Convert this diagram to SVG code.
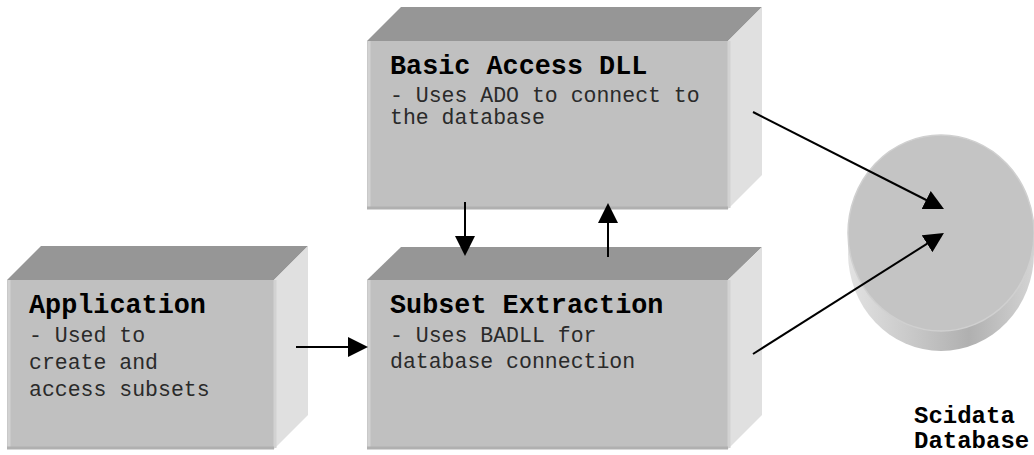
<svg xmlns="http://www.w3.org/2000/svg" width="1034" height="455" viewBox="0 0 1034 455">
<style>
.front{fill:#c0c0c0}
.top{fill:#969696}
.side{fill:#e0e0e0}
.hl{stroke:#d2d2d2;stroke-width:3;fill:none}
.sh{stroke:#b0b0b0;stroke-width:3;fill:none}
.title{font-family:"Liberation Mono","Courier New",monospace;font-weight:bold;font-size:26.8px;fill:#000}
.body{font-family:"Liberation Mono","Courier New",monospace;font-size:21.5px;fill:#2a2a2a}
.dbl{font-family:"Liberation Mono","Courier New",monospace;font-weight:bold;font-size:24px;fill:#000}
.conn{stroke:#000;stroke-width:2;fill:none;marker-end:url(#ah)}
</style>
<defs>
<marker id="ah" viewBox="0 0 20 20" refX="10" refY="10" markerWidth="20" markerHeight="20" markerUnits="userSpaceOnUse" orient="auto">
<path d="M0,0 L20,10 L0,20 z" fill="#000"/>
</marker>
<linearGradient id="cyl" x1="0" y1="0" x2="1" y2="0">
<stop offset="0" stop-color="#e2e2e2"/>
<stop offset="0.35" stop-color="#c8c8c8"/>
<stop offset="0.65" stop-color="#b0b0b0"/>
<stop offset="1" stop-color="#d4d4d4"/>
</linearGradient>
</defs>
<rect width="1034" height="455" fill="#fff"/>

<g id="basic-access-dll">
<polygon class="top" points="367,41 401,7 762,7 728,41"/>
<polygon class="side" points="728,41 762,7 762,175 728,209"/>
<rect class="front" x="367" y="41" width="361" height="168"/>
<line class="hl" x1="369" y1="41" x2="369" y2="207"/>
<line class="hl" x1="729" y1="41" x2="729" y2="208"/>
<line class="sh" x1="367" y1="208" x2="728" y2="208"/>
<text class="title" x="390" y="74">Basic Access DLL</text>
<text class="body" x="390" y="102">- Uses ADO to connect to</text>
<text class="body" x="390" y="124">the database</text>
</g>

<g id="application">
<polygon class="top" points="7,280 41,246 308,246 274,280"/>
<polygon class="side" points="274,280 308,246 308,415 274,449"/>
<rect class="front" x="7" y="280" width="267" height="169"/>
<line class="hl" x1="9" y1="280" x2="9" y2="447"/>
<line class="hl" x1="275" y1="280" x2="275" y2="448"/>
<line class="sh" x1="7" y1="448" x2="274" y2="448"/>
<text class="title" x="29" y="313">Application</text>
<text class="body" x="29" y="342">- Used to</text>
<text class="body" x="29" y="369">create and</text>
<text class="body" x="29" y="396">access subsets</text>
</g>

<g id="subset-extraction">
<polygon class="top" points="367,280 401,247 762,247 728,280"/>
<polygon class="side" points="728,280 762,247 762,415 728,449"/>
<rect class="front" x="367" y="280" width="361" height="169"/>
<line class="hl" x1="369" y1="280" x2="369" y2="447"/>
<line class="hl" x1="729" y1="280" x2="729" y2="448"/>
<line class="sh" x1="367" y1="448" x2="728" y2="448"/>
<text class="title" x="390" y="313">Subset Extraction</text>
<text class="body" x="390" y="342">- Uses BADLL for</text>
<text class="body" x="390" y="368">database connection</text>
</g>

<g id="scidata-database">
<path d="M848,233 L848,253 A93,98 0 0 0 1034,253 L1034,233 Z" fill="url(#cyl)"/>
<ellipse cx="941" cy="233" rx="93" ry="98" fill="#c4c4c4" stroke="#d0d0d0" stroke-width="1.5"/>
<text class="dbl" x="914" y="423">Scidata</text>
<text class="dbl" x="914" y="448">Database</text>
</g>

<g id="connectors">
<line class="conn" x1="296" y1="347" x2="358" y2="347"/>
<line class="conn" x1="465" y1="202" x2="465" y2="246"/>
<line class="conn" x1="608" y1="257" x2="608" y2="213"/>
<line class="conn" x1="753" y1="112" x2="935.1" y2="204.5"/>
<line class="conn" x1="753" y1="354" x2="935.5" y2="238.4"/>
</g>
</svg>
